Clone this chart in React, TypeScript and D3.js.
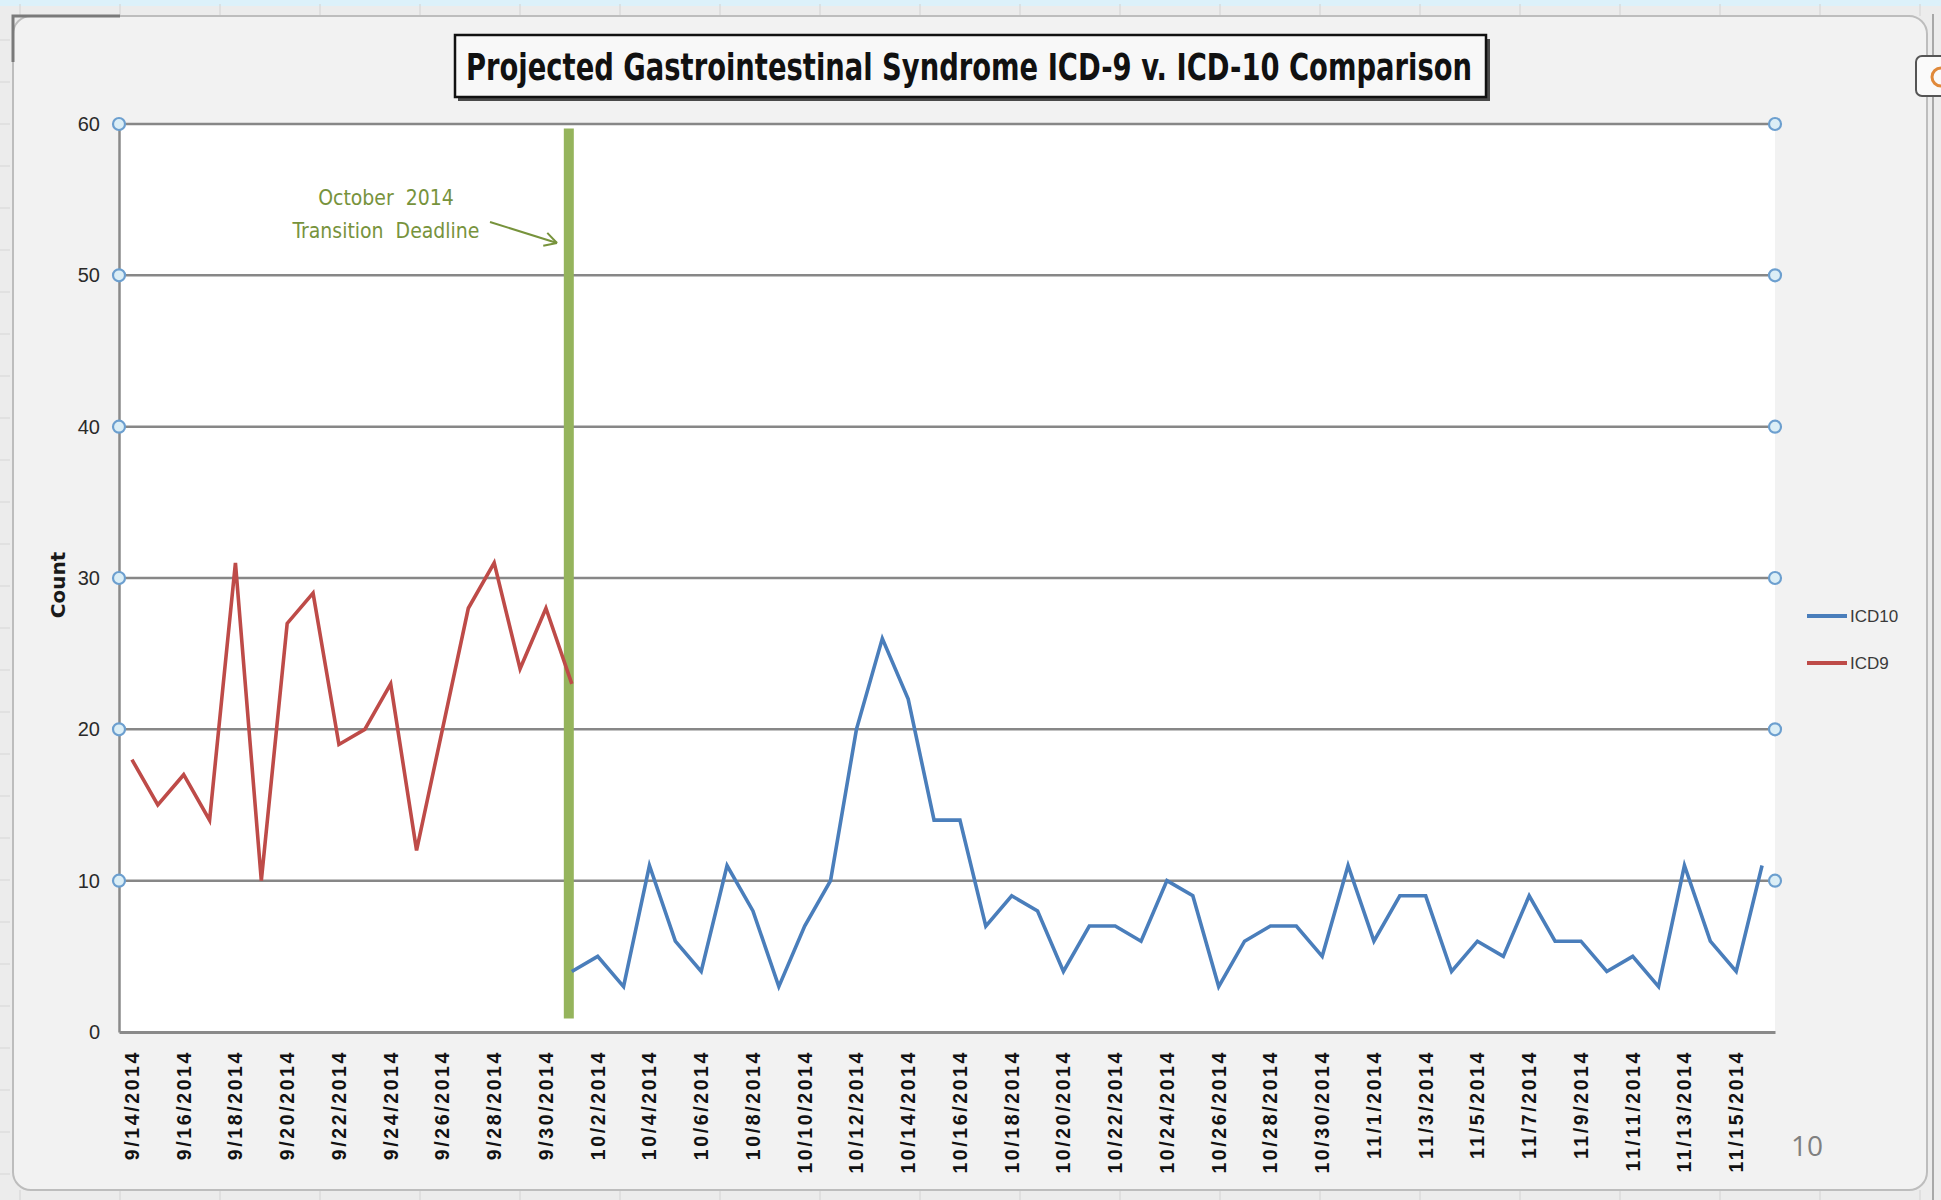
import React, { useEffect, useRef } from "react";
import * as d3 from "d3";

const dates = [
  "9/14/2014", "9/15/2014", "9/16/2014", "9/17/2014", "9/18/2014", "9/19/2014", "9/20/2014", "9/21/2014",
  "9/22/2014", "9/23/2014", "9/24/2014", "9/25/2014", "9/26/2014", "9/27/2014", "9/28/2014", "9/29/2014",
  "9/30/2014", "10/1/2014", "10/2/2014", "10/3/2014", "10/4/2014", "10/5/2014", "10/6/2014", "10/7/2014",
  "10/8/2014", "10/9/2014", "10/10/2014", "10/11/2014", "10/12/2014", "10/13/2014", "10/14/2014", "10/15/2014",
  "10/16/2014", "10/17/2014", "10/18/2014", "10/19/2014", "10/20/2014", "10/21/2014", "10/22/2014", "10/23/2014",
  "10/24/2014", "10/25/2014", "10/26/2014", "10/27/2014", "10/28/2014", "10/29/2014", "10/30/2014", "10/31/2014",
  "11/1/2014", "11/2/2014", "11/3/2014", "11/4/2014", "11/5/2014", "11/6/2014", "11/7/2014", "11/8/2014",
  "11/9/2014", "11/10/2014", "11/11/2014", "11/12/2014", "11/13/2014", "11/14/2014", "11/15/2014", "11/16/2014",
];

// ICD9 runs 9/14 - 10/1, ICD10 runs 10/1 - 11/16
const icd9Counts = [18, 15, 17, 14, 31, 10, 27, 29, 19, 20, 23, 12, 20, 28, 31, 24, 28, 23];
const icd10Counts = [
  4, 5, 3, 11, 6, 4, 11, 8, 3, 7, 10, 20, 26, 22, 14, 14, 7, 9, 8, 4, 7, 7, 6, 10, 9, 3, 6,
  7, 7, 5, 11, 6, 9, 9, 4, 6, 5, 9, 6, 6, 4, 5, 3, 11, 6, 4, 11,
];
const yTicks = [0, 10, 20, 30, 40, 50, 60];
const xTickLabels = dates.filter((d, i) => i % 2 === 0);
const deadlineDate = "10/1/2014";

const titleText = "Projected Gastrointestinal Syndrome ICD-9 v. ICD-10 Comparison";
const noteLines = ["October  2014", "Transition  Deadline"];
const legendNames = ["ICD10", "ICD9"];

const blue = "#4a7ebb";
const red = "#be4b48";
const olive = "#77933c";
const narrow = "'Liberation Sans Narrow', 'DejaVu Sans Condensed', 'Arial Narrow', sans-serif";

const App = () => {
  const svgRef = useRef(null);

  useEffect(() => {
    const width = 1941;
    const height = 1200;
    const margin = { top: 124, right: 166, bottom: 168, left: 119 };

    const svg = d3.select(svgRef.current);
    svg.selectAll("*").remove();

    const x = d3
      .scaleBand()
      .domain(dates)
      .range([margin.left, width - margin.right])
      .padding(0);
    const cx = (d) => x(d) + x.bandwidth() / 2;

    const y = d3
      .scaleLinear()
      .domain([0, 60])
      .range([height - margin.bottom, margin.top]);

    // page / spreadsheet background
    svg.append("rect").attr("width", width).attr("height", height).attr("fill", "#ececec");
    svg.append("rect").attr("width", width).attr("height", 6).attr("fill", "#dcf1fa");
    for (let cxl = 20; cxl < width; cxl += 100) {
      svg.append("line").attr("x1", cxl).attr("x2", cxl).attr("y1", 4).attr("y2", 16)
        .attr("stroke", "#d2d2d2");
      svg.append("line").attr("x1", cxl).attr("x2", cxl).attr("y1", 1190).attr("y2", 1200)
        .attr("stroke", "#d2d2d2");
    }
    for (let ry = 40; ry < height; ry += 42) {
      svg.append("line").attr("x1", 0).attr("x2", 10).attr("y1", ry).attr("y2", ry)
        .attr("stroke", "#d6d6d6");
    }
    svg.append("line").attr("x1", 1933).attr("x2", 1933).attr("y1", 14).attr("y2", 1200)
      .attr("stroke", "#a8a8a8").attr("stroke-width", 2);

    // chart area
    svg.append("rect")
      .attr("x", 13).attr("y", 16).attr("width", 1914).attr("height", 1174)
      .attr("rx", 18)
      .attr("fill", "#f2f2f2")
      .attr("stroke", "#bdbdbd")
      .attr("stroke-width", 2);
    svg.append("path")
      .attr("d", "M13,62 L13,16 L120,16")
      .attr("fill", "none").attr("stroke", "#7a7a7a").attr("stroke-width", 3);

    // little button at top right
    svg.append("rect")
      .attr("x", 1916).attr("y", 56).attr("width", 40).attr("height", 40).attr("rx", 6)
      .attr("fill", "#fafafa").attr("stroke", "#555").attr("stroke-width", 2);
    svg.append("path")
      .attr("d", "M1941,68 A9,9 0 0 0 1941,86")
      .attr("fill", "none").attr("stroke", "#e0893a").attr("stroke-width", 3);

    // title
    svg.append("rect")
      .attr("x", 458).attr("y", 39).attr("width", 1032).attr("height", 62)
      .attr("fill", "#4a4a4a");
    svg.append("rect")
      .attr("x", 455).attr("y", 35).attr("width", 1031).attr("height", 62)
      .attr("fill", "#f8f8f8").attr("stroke", "#111").attr("stroke-width", 2.5);
    svg.append("text")
      .attr("x", 466).attr("y", 80)
      .attr("textLength", 1006).attr("lengthAdjust", "spacingAndGlyphs")
      .attr("font-family", narrow).attr("font-weight", "bold").attr("font-size", 38)
      .attr("fill", "#111")
      .text(titleText);

    // plot area
    svg.append("rect")
      .attr("x", margin.left).attr("y", margin.top)
      .attr("width", width - margin.left - margin.right)
      .attr("height", height - margin.top - margin.bottom)
      .attr("fill", "#fff");

    // gridlines
    svg.append("g")
      .selectAll("line")
      .data(yTicks.filter((t) => t > 0))
      .enter()
      .append("line")
      .attr("x1", margin.left).attr("x2", width - margin.right)
      .attr("y1", (d) => y(d)).attr("y2", (d) => y(d))
      .attr("stroke", "#878787").attr("stroke-width", 2.5);

    // y axis
    const yAxisG = svg.append("g")
      .attr("transform", `translate(${margin.left},0)`)
      .call(d3.axisLeft(y).tickValues(yTicks).tickSize(0).tickPadding(19));
    yAxisG.select("path").attr("stroke", "#8a8a8a").attr("stroke-width", 2.5);
    yAxisG.selectAll("text")
      .attr("font-family", "'Liberation Sans', sans-serif")
      .attr("font-size", 20).attr("fill", "#2a2a2a");

    // x axis
    const xAxisG = svg.append("g")
      .attr("transform", `translate(0,${y(0)})`)
      .call(d3.axisBottom(x).tickValues(xTickLabels).tickSize(0));
    xAxisG.select("path").attr("stroke", "#8a8a8a").attr("stroke-width", 3);
    xAxisG.selectAll("text")
      .attr("transform", "rotate(-90)")
      .attr("x", -18).attr("y", 0).attr("dy", "0.36em")
      .attr("text-anchor", "end")
      .attr("font-family", "'Liberation Sans', sans-serif")
      .attr("font-weight", "bold")
      .attr("letter-spacing", 2.6)
      .attr("font-size", 19.5).attr("fill", "#111");

    // deadline bar
    svg.append("line")
      .attr("x1", cx(deadlineDate) - 3).attr("x2", cx(deadlineDate) - 3)
      .attr("y1", y(59.7)).attr("y2", y(0.9))
      .attr("stroke", "#95b45c").attr("stroke-width", 10);

    // series
    const line = d3.line().x((d) => cx(d[0])).y((d) => y(d[1]));
    const icd9Data = icd9Counts.map((v, i) => [dates[i], v]);
    const icd10Start = dates.indexOf(deadlineDate);
    const icd10Data = icd10Counts.map((v, i) => [dates[icd10Start + i], v]);

    svg.append("path").datum(icd9Data).attr("d", line)
      .attr("fill", "none").attr("stroke", red).attr("stroke-width", 3.6)
      .attr("stroke-linejoin", "miter");
    svg.append("path").datum(icd10Data).attr("d", line)
      .attr("fill", "none").attr("stroke", blue).attr("stroke-width", 3.6)
      .attr("stroke-linejoin", "miter");

    // gridline handles
    const handleX = [margin.left, width - margin.right];
    yTicks.filter((t) => t > 0).forEach((t) => {
      handleX.forEach((hx) => {
        svg.append("circle")
          .attr("cx", hx).attr("cy", y(t)).attr("r", 6)
          .attr("fill", "#dbeef6").attr("stroke", "#6c9fcf").attr("stroke-width", 2.2);
      });
    });

    // annotation
    noteLines.forEach((txt, i) => {
      svg.append("text")
        .attr("x", 386).attr("y", 205 + i * 33)
        .attr("text-anchor", "middle")
        .attr("font-family", narrow).attr("font-size", 21)
        .attr("fill", olive)
        .style("white-space", "pre")
        .text(txt);
    });
    const a0 = [490, 222];
    const a1 = [557, 243];
    svg.append("line")
      .attr("x1", a0[0]).attr("y1", a0[1]).attr("x2", a1[0]).attr("y2", a1[1])
      .attr("stroke", olive).attr("stroke-width", 2);
    const ang = Math.atan2(a1[1] - a0[1], a1[0] - a0[0]);
    [-0.5, 0.5].forEach((da) => {
      svg.append("line")
        .attr("x1", a1[0]).attr("y1", a1[1])
        .attr("x2", a1[0] - 14 * Math.cos(ang + da))
        .attr("y2", a1[1] - 14 * Math.sin(ang + da))
        .attr("stroke", olive).attr("stroke-width", 2);
    });

    // y axis title
    svg.append("text")
      .attr("transform", "translate(58,585) rotate(-90)")
      .attr("text-anchor", "middle").attr("dy", "0.35em")
      .attr("font-family", "'DejaVu Sans', sans-serif")
      .attr("font-weight", "bold").attr("font-size", 20)
      .attr("fill", "#1a1a1a")
      .text("Count");

    // legend
    const legend = svg.append("g").attr("transform", "translate(1807,616)");
    legendNames.forEach((name, i) => {
      const row = legend.append("g").attr("transform", `translate(0,${i * 47})`);
      row.append("line").attr("x1", 0).attr("x2", 40)
        .attr("stroke", i === 0 ? blue : red).attr("stroke-width", 4);
      row.append("text")
        .attr("x", 43).attr("y", 0).attr("dy", "0.36em")
        .attr("font-family", "'Liberation Sans', sans-serif")
        .attr("font-size", 17).attr("fill", "#3a3a3a")
        .text(name);
    });

    // slide number
    svg.append("text")
      .attr("x", 1791).attr("y", 1156)
      .attr("font-family", "'Open Sans', sans-serif")
      .attr("font-size", 28).attr("fill", "#808080")
      .text("10");
  }, []);

  return (
    <svg
      ref={svgRef}
      width={1941}
      height={1200}
      style={{ position: "absolute", left: 0, top: 0, display: "block" }}
    />
  );
};

export default App;
